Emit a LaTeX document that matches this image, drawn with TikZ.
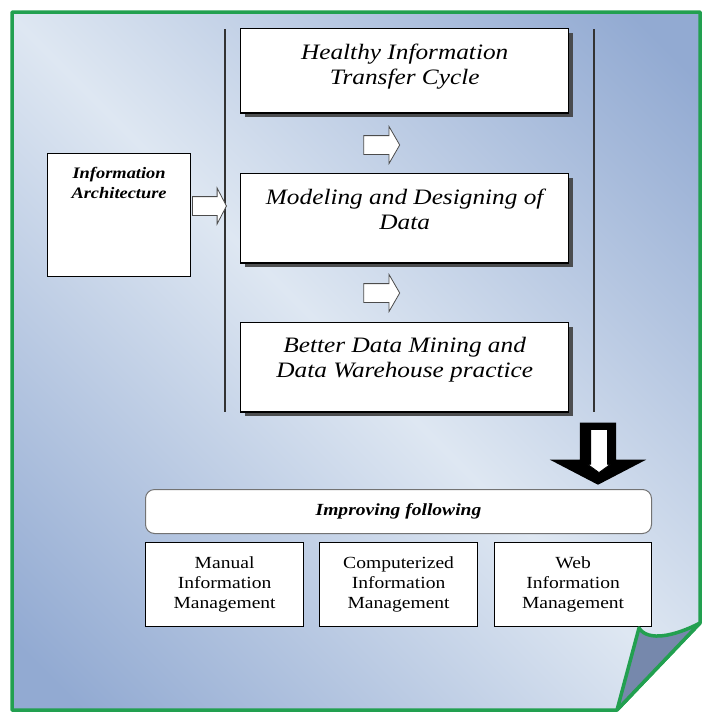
\documentclass[tikz,border=0pt]{standalone}
\usepackage{fontspec}
\setmainfont[FakeStretch=1.15]{Liberation Serif}
\usetikzlibrary{shapes.arrows,shadows}

\definecolor{framegreen}{RGB}{34,160,80}
\definecolor{pagelight}{RGB}{222,231,242}
\definecolor{pagedark}{RGB}{146,170,210}
\definecolor{flapblue}{RGB}{118,136,172}
\pgfdeclareverticalshading{pageshade}{100bp}{color(0bp)=(pagedark); color(18bp)=(pagedark); color(50bp)=(pagelight); color(82bp)=(pagedark); color(100bp)=(pagedark)}

\tikzset{
  frame/.style={draw=framegreen, line width=3.5pt, line join=round},
  divider/.style={draw=black!80, line width=1.2pt},
  phase/.style={draw=black, line width=1.4pt, fill=white, align=center,
    font=\fontsize{22}{25}\selectfont\itshape, minimum width=328pt,
    inner xsep=0pt, inner ysep=15pt, text depth=19pt, anchor=north west,
    drop shadow={shadow xshift=4pt, shadow yshift=-4pt, fill=black!75, opacity=0.9}},
  areabox/.style={draw=black, line width=1.2pt, fill=white, align=center,
    font=\fontsize{17}{20}\selectfont, minimum width=158pt, minimum height=84pt,
    inner sep=0pt, anchor=north west},
  hollow/.style={single arrow, draw=black!70, fill=white, line width=0.8pt,
    minimum height=36pt, single arrow head extend=9pt,
    single arrow tip angle=120, inner sep=9pt},
}

\begin{document}
\begin{tikzpicture}[x=1pt,y=-1pt]
\useasboundingbox (0,0) rectangle (702,713);

% page
\shade[shading=pageshade, shading angle=-45] (12,12) -- (700,12) -- (700,623) -- (617,710) -- (12,710) -- cycle;
\draw[frame] (12,12) -- (700,12) -- (700,623) -- (617,710) -- (12,710) -- cycle;

\draw[divider] (225,29) -- (225,412);
\draw[divider] (594,29) -- (594,412);

% phases
\node[phase, text depth=14pt] (cycle) at (240,28) {Healthy Information\\Transfer Cycle};
\node[phase] (model) at (240,173) {Modeling and Designing of\\Data};
\node[phase] (mining) at (240,322) {Better Data Mining and\\Data Warehouse practice};

\node[draw=black, line width=1.2pt, fill=white, align=center, anchor=north west,
  font=\fontsize{16}{20}\selectfont\bfseries\itshape, minimum width=143pt,
  inner xsep=0pt, inner ysep=14pt, text depth=64pt] (arch) at (47,153) {Information\\Architecture};

\node[hollow, minimum height=34pt, single arrow head extend=8.5pt, single arrow tip angle=125] (archarrow) at (207,206) {};
\node[hollow] (arrowa) at (379,145) {};
\node[hollow] (arrowb) at (379,293) {};

% result arrow
\node[single arrow, fill=black, shape border rotate=270, minimum height=62pt,
  single arrow head extend=30pt, single arrow tip angle=125, inner sep=18pt] (down) at (598,449) {};
\node[single arrow, draw=black, fill=white, line width=0.8pt, shape border rotate=270, minimum height=43pt,
  single arrow head extend=3pt, single arrow tip angle=108, inner sep=8pt] (downin) at (599,448) {};

\node[draw=black!55, line width=1pt, fill=white, rounded corners=9pt, anchor=north west,
  minimum width=506pt, minimum height=44pt, font=\fontsize{17}{20}\selectfont\bfseries\itshape] (improve) at (145,489) {Improving following};

\node[areabox] (manual) at (145,542) {Manual\\Information\\Management};
\node[areabox] (computer) at (319,542) {Computerized\\Information\\Management};
\node[areabox, minimum width=157pt] (web) at (494,542) {Web\\Information\\Management};

% folded corner
\draw[frame, fill=flapblue] (617,710) -- (639,628) .. controls (648,642) and (675,636) .. (700,623) -- cycle;
\end{tikzpicture}
\end{document}
